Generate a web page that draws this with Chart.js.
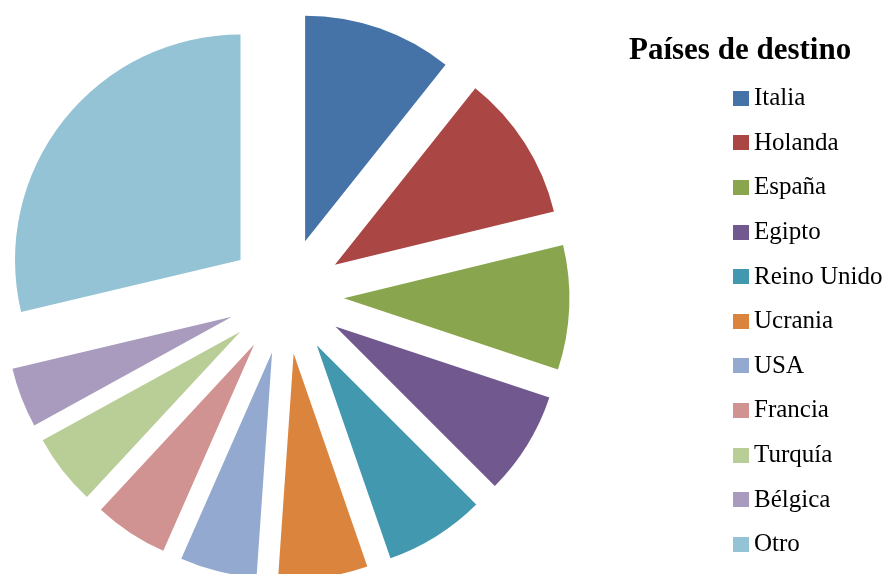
<!DOCTYPE html>
<html>
<head>
<meta charset="utf-8">
<script src="https://cdn.jsdelivr.net/npm/chart.js@4/dist/chart.umd.min.js"></script>
<style>
  html, body { margin: 0; padding: 0; background: #fff; }
  #wrap { position: relative; width: 888px; height: 574px; overflow: hidden; }
  #c { position: absolute; left: 0; top: 0; }
  #legendTitle { position: absolute; left: 629px; top: 31px; font-family: "Liberation Serif", "Times New Roman", serif; font-weight: bold; font-size: 31px; color: #000; white-space: nowrap; line-height: normal; }
  .item { position: absolute; left: 733px; height: 30px; white-space: nowrap; font-family: "Liberation Serif", "Times New Roman", serif; font-size: 25px; color: #000; line-height: normal; }
  .box { position: absolute; left: 0; width: 16px; height: 15px; }
  .lbl { position: absolute; left: 21px; top: 0; }
</style>
</head>
<body>
<div id="wrap">
  <canvas id="c" width="888" height="574"></canvas>
  <div id="legendTitle">Países de destino</div>
  <div id="legend"></div>
</div>
<script>
const categories = ["Italia", "Holanda", "España", "Egipto", "Reino Unido", "Ucrania", "USA", "Francia", "Turquía", "Bélgica", "Otro"];
const shares = [10.7, 10.5, 8.9, 7.4, 7.2, 6.4, 5.5, 5.3, 5.1, 4.3, 28.7];
const colors = ["#4572A7", "#AA4643", "#89A54E", "#71588F", "#4198AF", "#DB843D", "#93A9CF", "#D19392", "#B9CD96", "#A99BBD", "#93C3D5"];
const legendTitle = "Países de destino";

const RADIUS = 225.5;
const EXPLODE = 58;            // px shift of each slice
const OFFSET = EXPLODE * 4;    // Chart.js arc translates by offset/4

// Chart.js widens/narrows exploded slices depending on their angle; to get a plain
// radial explode (same radius, radial edges) the size-dependent correction is neutralised
// during drawing and the real circumference restored afterwards.
const explodeFix = {
  id: 'explodeFix',
  beforeDatasetsDraw(chart) {
    const meta = chart.getDatasetMeta(0);
    meta.data.forEach(arc => {
      arc._realCirc = arc.circumference;
      arc.outerRadius = RADIUS;
      arc.circumference = Math.PI / 2; // makes Chart.js's radius "fix" term zero
    });
  },
  afterDatasetsDraw(chart) {
    const meta = chart.getDatasetMeta(0);
    meta.data.forEach(arc => {
      if (arc._realCirc !== undefined) arc.circumference = arc._realCirc;
    });
  }
};

new Chart(document.getElementById('c'), {
  type: 'pie',
  data: {
    labels: categories,
    datasets: [{
      data: shares,
      backgroundColor: colors,
      borderWidth: 0,
      offset: OFFSET,
      hoverOffset: 0
    }]
  },
  options: {
    responsive: false,
    animation: false,
    radius: RADIUS,
    layout: { padding: { left: 0, top: 18, right: 316, bottom: 0 } },
    plugins: {
      legend: { display: false },
      tooltip: { enabled: false },
      title: { display: false }
    }
  },
  plugins: [explodeFix]
});

document.getElementById('legendTitle').textContent = legendTitle;
const legend = document.getElementById('legend');
categories.forEach((name, i) => {
  const baseline = 106 + i * 44.6;
  const item = document.createElement('div');
  item.className = 'item';
  item.style.top = (baseline - 22.8) + 'px';
  const box = document.createElement('div');
  box.className = 'box';
  box.style.background = colors[i];
  box.style.top = (22.8 - 15.3) + 'px';
  const lbl = document.createElement('div');
  lbl.className = 'lbl';
  lbl.textContent = name;
  item.appendChild(box);
  item.appendChild(lbl);
  legend.appendChild(item);
});
</script>
</body>
</html>
